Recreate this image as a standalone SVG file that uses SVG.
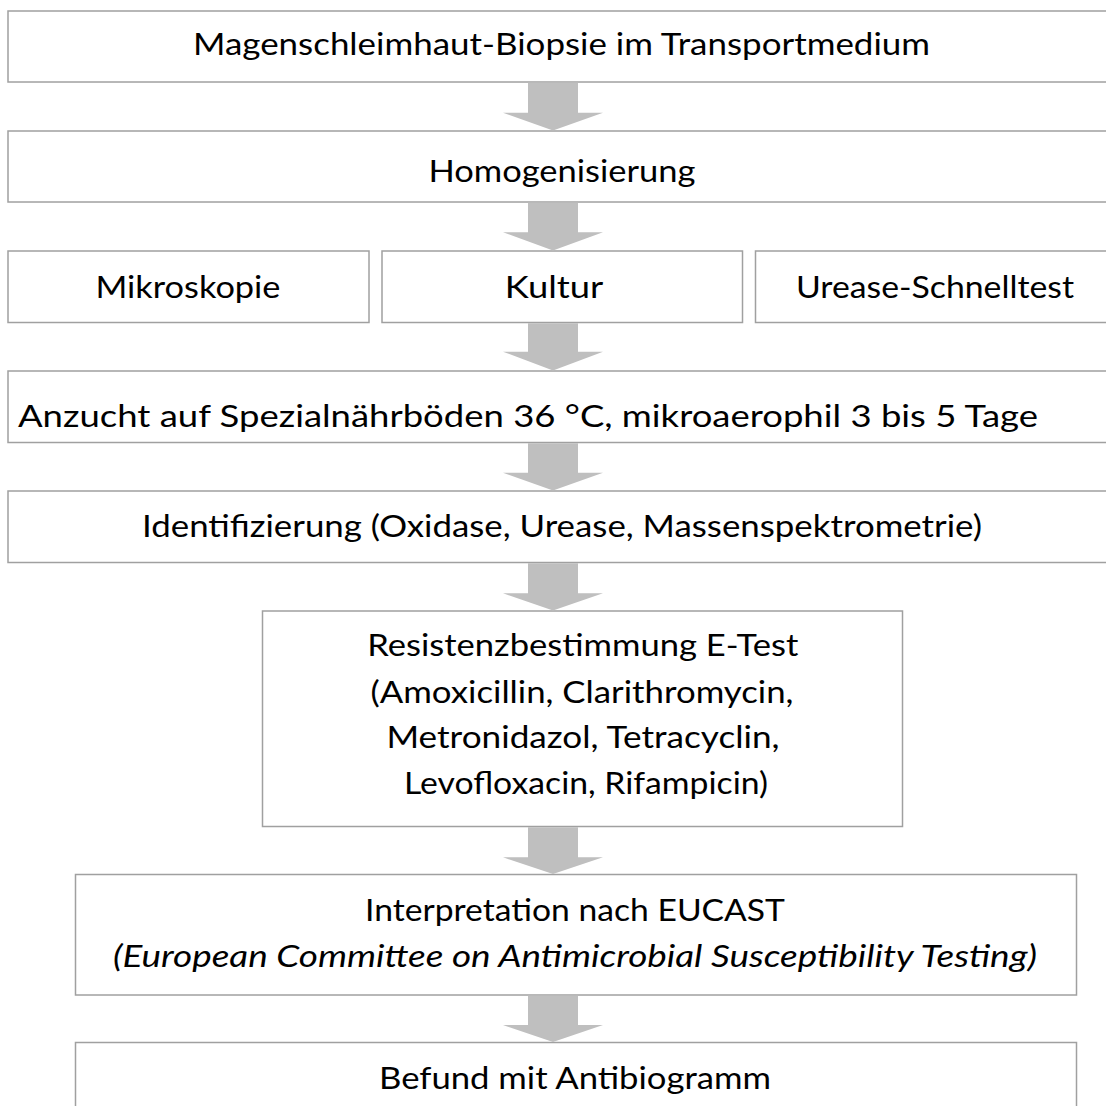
<svg xmlns="http://www.w3.org/2000/svg" width="1106" height="1106" viewBox="0 0 1106 1106">
<defs>
<style>
.box{fill:#ffffff;stroke:#a0a0a0;stroke-width:1.5}
.t{font-family:Lato,"Open Sans","Liberation Sans",sans-serif;font-size:30px;fill:#000000;text-anchor:middle}
.i{font-style:italic}
.arr{fill:#bfbfbf;stroke:none}
</style>
</defs>
<rect width="1106" height="1106" fill="#ffffff"/>
<g id="n1"><rect class="box" x="8" y="11" width="1107" height="71"/><text class="t" x="561.5" y="55" textLength="737" lengthAdjust="spacingAndGlyphs">Magenschleimhaut-Biopsie im Transportmedium</text></g>
<g id="n2"><rect class="box" x="8" y="131" width="1107" height="71"/><text class="t" x="562" y="182" textLength="267" lengthAdjust="spacingAndGlyphs">Homogenisierung</text></g>
<g id="n3"><rect class="box" x="8" y="251" width="361" height="71.5"/><text class="t" x="188" y="298" textLength="185" lengthAdjust="spacingAndGlyphs">Mikroskopie</text></g>
<g id="n4"><rect class="box" x="382" y="251" width="360.5" height="71.5"/><text class="t" x="554" y="298" textLength="98.5" lengthAdjust="spacingAndGlyphs">Kultur</text></g>
<g id="n5"><rect class="box" x="755.5" y="251" width="360" height="71.5"/><text class="t" x="935" y="298" textLength="278" lengthAdjust="spacingAndGlyphs">Urease-Schnelltest</text></g>
<g id="n6"><rect class="box" x="8" y="371" width="1107" height="71.5"/><text class="t" x="528" y="427" textLength="1020" lengthAdjust="spacingAndGlyphs">Anzucht auf Spezialnährböden 36 °C, mikroaerophil 3 bis 5 Tage</text></g>
<g id="n7"><rect class="box" x="8" y="491" width="1107" height="71.5"/><text class="t" x="562" y="537" textLength="840" lengthAdjust="spacingAndGlyphs">Identifizierung (Oxidase, Urease, Massenspektrometrie)</text></g>
<g id="n8"><rect class="box" x="262.5" y="611" width="640" height="215.5"/>
<text class="t" x="582.8" y="656" textLength="431" lengthAdjust="spacingAndGlyphs">Resistenzbestimmung E-Test</text>
<text class="t" x="582" y="702.5" textLength="423" lengthAdjust="spacingAndGlyphs">(Amoxicillin, Clarithromycin,</text>
<text class="t" x="583" y="748" textLength="393" lengthAdjust="spacingAndGlyphs">Metronidazol, Tetracyclin,</text>
<text class="t" x="586" y="793.5" textLength="364" lengthAdjust="spacingAndGlyphs">Levofloxacin, Rifampicin)</text></g>
<g id="n9"><rect class="box" x="75.5" y="874.5" width="1001" height="120.5"/>
<text class="t" x="575" y="921" textLength="420" lengthAdjust="spacingAndGlyphs">Interpretation nach EUCAST</text>
<text class="t i" x="575" y="967" textLength="924" lengthAdjust="spacingAndGlyphs">(European Committee on Antimicrobial Susceptibility Testing)</text></g>
<g id="n10"><rect class="box" x="75.5" y="1042.5" width="1001" height="80"/><text class="t" x="575" y="1088.5" textLength="392" lengthAdjust="spacingAndGlyphs">Befund mit Antibiogramm</text></g>
<g id="connectors">
<polygon class="arr" points="528,82.8 578,82.8 578,112.7 603,112.7 553,130.5 503,112.7 528,112.7"/>
<polygon class="arr" points="528,202.8 578,202.8 578,232.3 603,232.3 553,250.5 503,232.3 528,232.3"/>
<polygon class="arr" points="528,323.3 578,323.3 578,351.7 603,351.7 553,370.5 503,351.7 528,351.7"/>
<polygon class="arr" points="528,443.3 578,443.3 578,472.7 603,472.7 553,490.5 503,472.7 528,472.7"/>
<polygon class="arr" points="528,563.3 578,563.3 578,593.3 603,593.3 553,610.5 503,593.3 528,593.3"/>
<polygon class="arr" points="528,827.3 578,827.3 578,857.3 603,857.3 553,874 503,857.3 528,857.3"/>
<polygon class="arr" points="528,995.8 578,995.8 578,1025 603,1025 553,1042 503,1025 528,1025"/>
</g>
</svg>
